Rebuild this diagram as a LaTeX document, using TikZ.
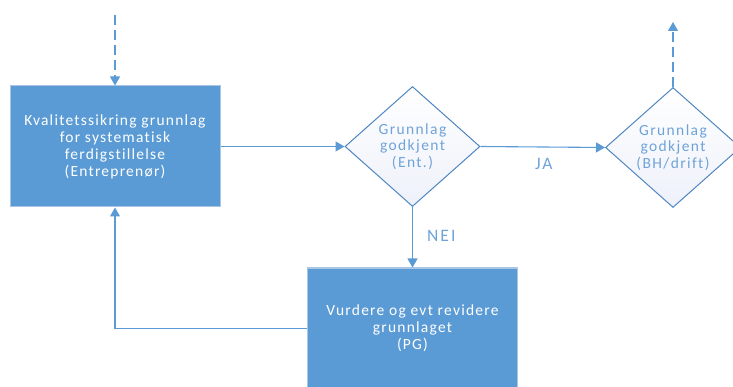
\documentclass[tikz,border=0pt]{standalone}
\usepackage{fontspec}
\setmainfont{Carlito}[Ligatures={NoCommon}]
\usetikzlibrary{shapes.geometric,arrows.meta}
\definecolor{boxfill}{HTML}{5B9BD5}
\definecolor{boxedge}{HTML}{A9C6E6}
\definecolor{lineblue}{HTML}{5B9BD5}
\definecolor{diaedge}{HTML}{4F86C0}
\definecolor{diatext}{HTML}{6FA3D8}
\definecolor{diafill}{HTML}{EEF1FA}
\tikzset{
  procbox/.style={draw=boxedge, line width=1pt, fill=boxfill, minimum width=210pt, minimum height=121pt, text=white, align=center, inner sep=0pt, font=\fontsize{15.5}{17}\selectfont\addfontfeatures{LetterSpace=8}},
  decision/.style={diamond, draw=diaedge, line width=1pt, top color=white, bottom color=diafill, minimum width=135pt, minimum height=120pt, aspect=1.125, inner sep=0pt, text=diatext, align=center, font=\fontsize{15.5}{16.5}\selectfont\addfontfeatures{LetterSpace=9}},
  conn/.style={draw=lineblue, line width=1.1pt, -{Triangle[width=10pt,length=9pt]}},
  dashconn/.style={conn, dash pattern=on 10pt off 5pt},
  lbl/.style={text=diatext, inner sep=0pt, font=\fontsize{17.5}{19}\selectfont\addfontfeatures{LetterSpace=12}}
}
\begin{document}
\begin{tikzpicture}[x=1pt,y=-1pt]
\useasboundingbox (0,0) rectangle (733,387);
\clip (0,0) rectangle (733,387);
\node[procbox] (kval) at (115,146.5) {Kvalitetssikring grunnlag\\for systematisk\\ferdigstillelse\\(Entreprenør)};
\node[decision] (d1) at (412.5,146.5) {Grunnlag\\godkjent\\(Ent.)};
\node[decision] (d2) at (673,147.5) {Grunnlag\\godkjent\\(BH/drift)};
\node[procbox] (vurd) at (412.5,328.5) {Vurdere og evt revidere\\grunnlaget\\(PG)};
\coordinate (topin) at (115,15);
\coordinate (topout) at (673,22);
\draw[dashconn] (topin) -- (kval.north);
\draw[dashconn] (d2.north) -- (topout);
\draw[conn] (kval.east) -- (d1.west);
\draw[conn] (d1.east) -- node[lbl, below=11pt, xshift=1pt] {JA} (d2.west);
\draw[conn] (d1.south) -- node[lbl, right=14pt, yshift=1pt] {NEI} (vurd.north);
\draw[conn] (vurd.west) -| (kval.south);
\end{tikzpicture}
\end{document}
